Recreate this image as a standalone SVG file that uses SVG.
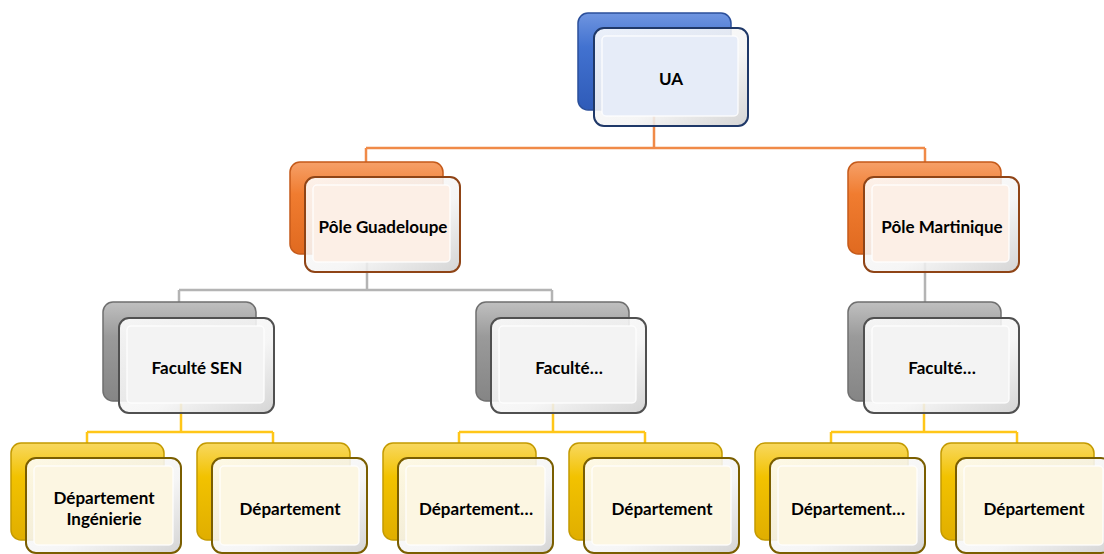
<svg xmlns="http://www.w3.org/2000/svg" width="1104" height="554" viewBox="0 0 1104 554">
<defs>
<linearGradient id="gBlue" x1="0" y1="0" x2="0" y2="1"><stop offset="0" stop-color="#6f95e0"/><stop offset="0.35" stop-color="#4272d0"/><stop offset="1" stop-color="#2f5bb8"/></linearGradient>
<linearGradient id="gOrange" x1="0" y1="0" x2="0" y2="1"><stop offset="0" stop-color="#f6a068"/><stop offset="0.35" stop-color="#f07c30"/><stop offset="1" stop-color="#e06a20"/></linearGradient>
<linearGradient id="gGray" x1="0" y1="0" x2="0" y2="1"><stop offset="0" stop-color="#c0c0c0"/><stop offset="0.35" stop-color="#9a9a9a"/><stop offset="1" stop-color="#858585"/></linearGradient>
<linearGradient id="gYellow" x1="0" y1="0" x2="0" y2="1"><stop offset="0" stop-color="#f8d860"/><stop offset="0.35" stop-color="#f2c200"/><stop offset="1" stop-color="#e0ae00"/></linearGradient>
<linearGradient id="bevel" x1="0" y1="0" x2="1" y2="1"><stop offset="0" stop-color="#ffffff"/><stop offset="0.6" stop-color="#f4f4f4"/><stop offset="1" stop-color="#cfcfcf"/></linearGradient>
</defs>
<style>
.back{stroke-width:1.5}
.bB{fill:url(#gBlue);stroke:#2b4f9a}
.bO{fill:url(#gOrange);stroke:#c55a1a}
.bG{fill:url(#gGray);stroke:#6f6f6f}
.bY{fill:url(#gYellow);stroke:#c49a00}
.front{fill:url(#bevel);fill-opacity:0.88;stroke-width:2}
.fB{stroke:#1f3868}
.fO{stroke:#8f4416}
.fG{stroke:#505050}
.fY{stroke:#7a5e00}
.inner{stroke:#ffffff;stroke-width:1.5;stroke-opacity:0.8}
.iB{fill:#e6ecf8}
.iO{fill:#fcefe6}
.iG{fill:#f3f3f3}
.iY{fill:#fcf6e2}
.lbl{font-family:Lato,"Liberation Sans",sans-serif;font-weight:bold;font-size:17px;fill:#000;text-anchor:middle;dominant-baseline:central}
.con{fill:none;stroke-width:2.5}
.cO{stroke:#f08a48}
.cG{stroke:#b4b4b4}
.cY{stroke:#ffc618}
</style>
<g id="connectors">
<path class="con cO" d="M654,110 V148 M366,148 H925 M366,148 V162 M925,148 V162"/>
<path class="con cG" d="M367,253 V290 M179,290 H552 M179,290 V302 M552,290 V302 M925,253 V302"/>
<path class="con cY" d="M181,400 V432 M87,432 H273 M87,432 V443 M273,432 V443"/>
<path class="con cY" d="M553,400 V432 M459,432 H645 M459,432 V443 M645,432 V443"/>
<path class="con cY" d="M924,400 V432 M831,432 H1017 M831,432 V443 M1017,432 V443"/>
</g>
<g id="node-ua">
<rect class="back bB" x="578" y="13" width="153" height="97" rx="10"/>
<rect class="front fB" x="594" y="28" width="154" height="98" rx="10"/>
<rect class="inner iB" x="602" y="36" width="136" height="80" rx="4"/>
<text class="lbl" x="671" y="78">UA</text>
</g>
<g id="node-pole-guadeloupe">
<rect class="back bO" x="290" y="162" width="153" height="92" rx="10"/>
<rect class="front fO" x="305" y="177" width="155" height="95" rx="10"/>
<rect class="inner iO" x="313" y="185" width="137" height="77" rx="4"/>
<text class="lbl" x="383" y="226">Pôle Guadeloupe</text>
</g>
<g id="node-pole-martinique">
<rect class="back bO" x="848" y="162" width="153" height="92" rx="10"/>
<rect class="front fO" x="864" y="177" width="155" height="95" rx="10"/>
<rect class="inner iO" x="872" y="185" width="137" height="77" rx="4"/>
<text class="lbl" x="942" y="226">Pôle Martinique</text>
</g>
<g id="node-faculte-sen">
<rect class="back bG" x="103" y="302" width="153" height="99" rx="10"/>
<rect class="front fG" x="119" y="318" width="155" height="95" rx="10"/>
<rect class="inner iG" x="127" y="326" width="137" height="77" rx="4"/>
<text class="lbl" x="197" y="367">Faculté SEN</text>
</g>
<g id="node-faculte-2">
<rect class="back bG" x="476" y="302" width="153" height="99" rx="10"/>
<rect class="front fG" x="491" y="318" width="155" height="95" rx="10"/>
<rect class="inner iG" x="499" y="326" width="137" height="77" rx="4"/>
<text class="lbl" x="569" y="367">Faculté…</text>
</g>
<g id="node-faculte-3">
<rect class="back bG" x="848" y="302" width="153" height="99" rx="10"/>
<rect class="front fG" x="864" y="318" width="155" height="95" rx="10"/>
<rect class="inner iG" x="872" y="326" width="137" height="77" rx="4"/>
<text class="lbl" x="942" y="367">Faculté…</text>
</g>
<g id="node-dept-1">
<rect class="back bY" x="11" y="443" width="153" height="97" rx="10"/>
<rect class="front fY" x="26" y="458" width="155" height="95" rx="10"/>
<rect class="inner iY" x="34" y="466" width="139" height="79" rx="4"/>
<text class="lbl" x="104" y="508"><tspan x="104" dy="-11">Département</tspan><tspan x="104" dy="21">Ingénierie</tspan></text>
</g>
<g id="node-dept-2">
<rect class="back bY" x="197" y="443" width="153" height="97" rx="10"/>
<rect class="front fY" x="212" y="458" width="155" height="95" rx="10"/>
<rect class="inner iY" x="220" y="466" width="139" height="79" rx="4"/>
<text class="lbl" x="290" y="508">Département</text>
</g>
<g id="node-dept-3">
<rect class="back bY" x="383" y="443" width="153" height="97" rx="10"/>
<rect class="front fY" x="398" y="458" width="155" height="95" rx="10"/>
<rect class="inner iY" x="406" y="466" width="139" height="79" rx="4"/>
<text class="lbl" x="476" y="508">Département…</text>
</g>
<g id="node-dept-4">
<rect class="back bY" x="569" y="443" width="153" height="97" rx="10"/>
<rect class="front fY" x="584" y="458" width="155" height="95" rx="10"/>
<rect class="inner iY" x="592" y="466" width="139" height="79" rx="4"/>
<text class="lbl" x="662" y="508">Département</text>
</g>
<g id="node-dept-5">
<rect class="back bY" x="755" y="443" width="153" height="97" rx="10"/>
<rect class="front fY" x="770" y="458" width="155" height="95" rx="10"/>
<rect class="inner iY" x="778" y="466" width="139" height="79" rx="4"/>
<text class="lbl" x="848" y="508">Département…</text>
</g>
<g id="node-dept-6">
<rect class="back bY" x="941" y="443" width="153" height="97" rx="10"/>
<rect class="front fY" x="956" y="458" width="155" height="95" rx="10"/>
<rect class="inner iY" x="964" y="466" width="139" height="79" rx="4"/>
<text class="lbl" x="1034" y="508">Département</text>
</g>
</svg>
